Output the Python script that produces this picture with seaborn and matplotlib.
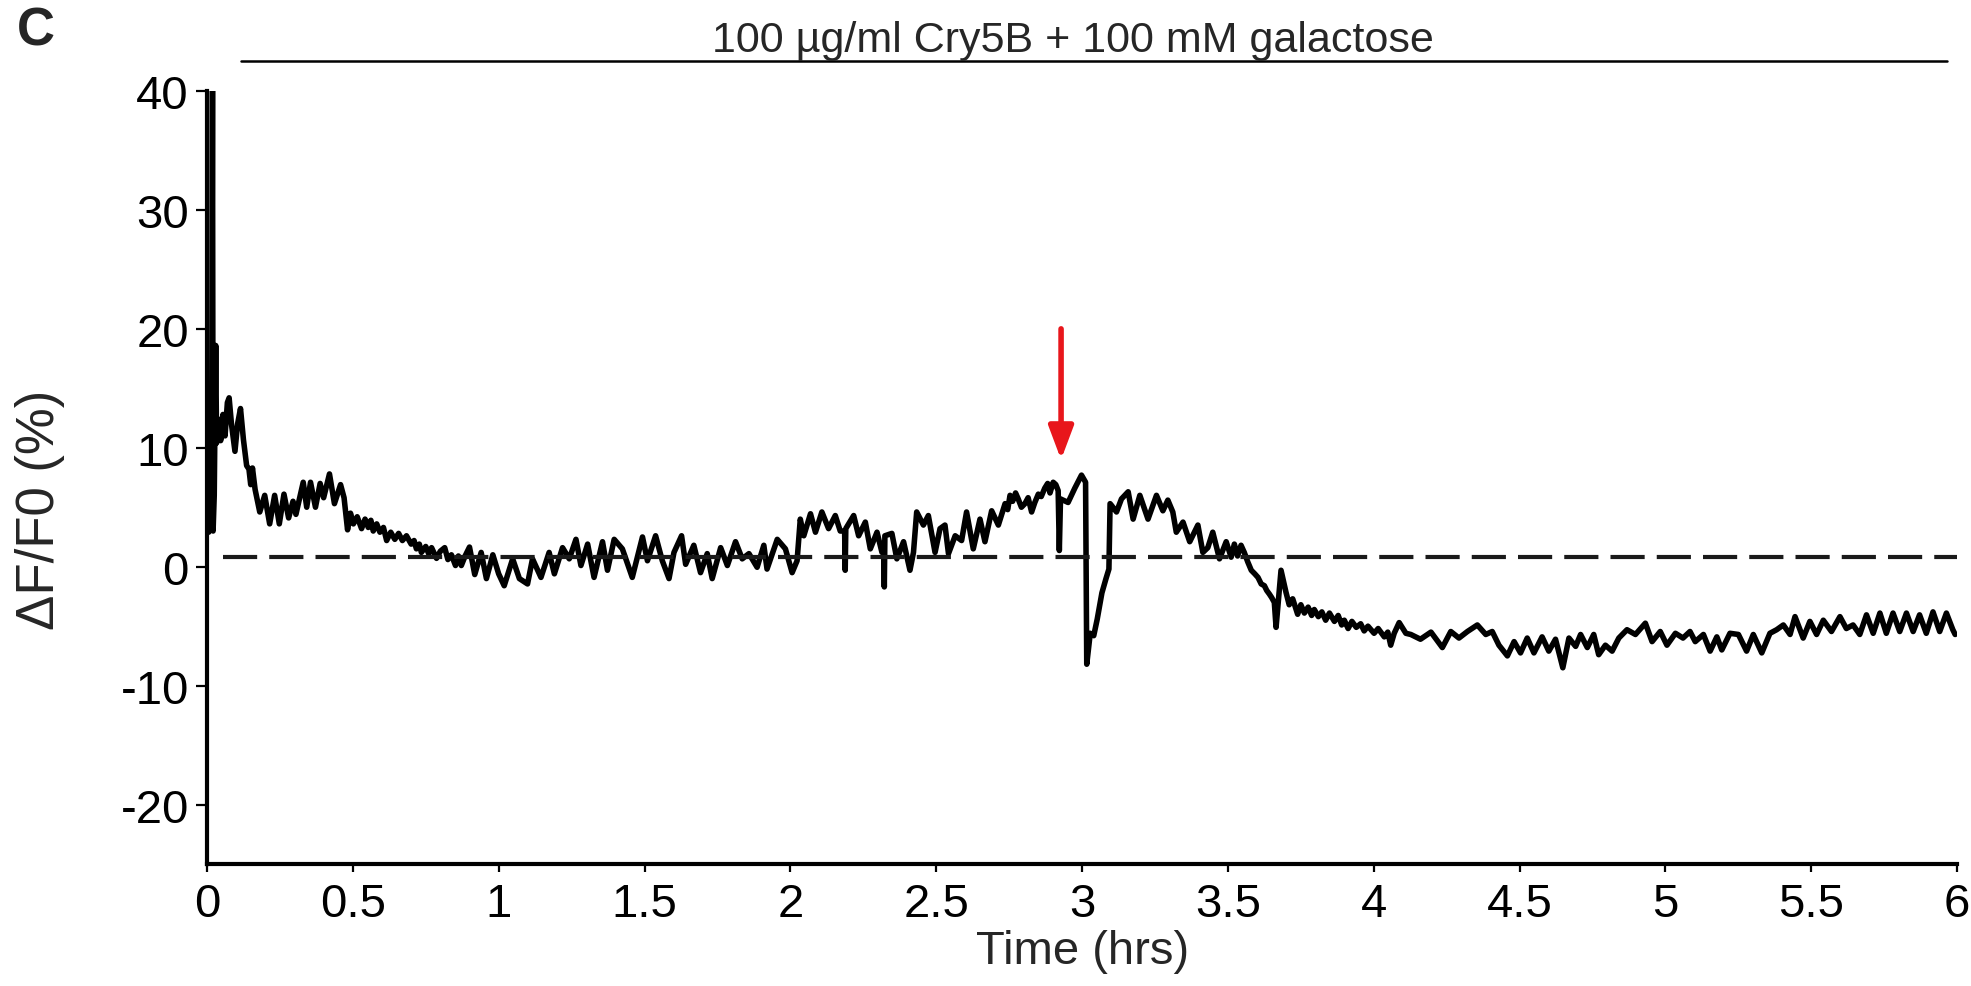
import numpy as np
import pandas as pd
import matplotlib
matplotlib.use("Agg")
import matplotlib.pyplot as plt
import seaborn as sns
from matplotlib.patches import FancyArrowPatch

# ---------------- data ----------------
time_hrs = [
    # 0 - 0.5 h
    0.000, 0.006, 0.010, 0.013, 0.016, 0.019, 0.021, 0.025, 0.030, 0.033,
    0.040, 0.047, 0.055, 0.062, 0.070, 0.076, 0.084, 0.096, 0.105, 0.115,
    0.125, 0.136, 0.144, 0.150, 0.156, 0.165, 0.181, 0.198, 0.215, 0.232,
    0.248, 0.264, 0.280, 0.295, 0.305, 0.330, 0.342, 0.355, 0.372, 0.388,
    0.400, 0.420, 0.437, 0.458, 0.470, 0.482,
    # 0.5 - 1.0 h
    0.492, 0.502, 0.515, 0.530, 0.542, 0.553, 0.562, 0.570, 0.582, 0.593,
    0.605, 0.616, 0.630, 0.644, 0.657, 0.670, 0.684, 0.700, 0.710, 0.718,
    0.728, 0.735, 0.750, 0.760, 0.770, 0.787, 0.800, 0.815, 0.826, 0.838,
    0.852, 0.862, 0.872, 0.885, 0.900, 0.918, 0.940, 0.958, 0.980, 1.000,
    # 1.0 - 2.0 h
    1.019, 1.048, 1.071, 1.099, 1.116, 1.145, 1.173, 1.191, 1.219, 1.242,
    1.265, 1.282, 1.305, 1.327, 1.356, 1.373, 1.396, 1.424, 1.458, 1.493,
    1.510, 1.538, 1.561, 1.584, 1.601, 1.627, 1.641, 1.669, 1.692, 1.715,
    1.732, 1.761, 1.784, 1.812, 1.835, 1.858, 1.886, 1.909, 1.920, 1.955,
    1.983, 2.006, 2.023,
    # 2.0 - 3.0 h
    2.034, 2.046, 2.069, 2.086, 2.108, 2.131, 2.154, 2.171, 2.186, 2.188,
    2.190, 2.217, 2.234, 2.257, 2.274, 2.297, 2.314, 2.320, 2.322, 2.324,
    2.348, 2.365, 2.388, 2.410, 2.422, 2.433, 2.456, 2.473, 2.496, 2.513,
    2.530, 2.542, 2.565, 2.587, 2.604, 2.627, 2.650, 2.667, 2.690, 2.713,
    2.736, 2.745, 2.753, 2.762, 2.772, 2.781, 2.792, 2.804, 2.815, 2.827,
    2.838, 2.850, 2.860, 2.872, 2.882, 2.890, 2.901, 2.910, 2.918, 2.922,
    2.926, 2.952, 2.975, 2.998, 3.012,
    # 3.0 - 4.1 h
    3.016, 3.028, 3.040, 3.052, 3.068, 3.082, 3.092, 3.096, 3.101, 3.118,
    3.135, 3.158, 3.175, 3.198, 3.226, 3.255, 3.277, 3.294, 3.311, 3.323,
    3.346, 3.369, 3.397, 3.414, 3.431, 3.448, 3.471, 3.494, 3.511, 3.522,
    3.533, 3.545, 3.556, 3.568, 3.580, 3.592, 3.603, 3.614, 3.625, 3.633,
    3.642, 3.650, 3.659, 3.665, 3.682, 3.699, 3.710, 3.722, 3.739, 3.750,
    3.762, 3.775, 3.787, 3.796, 3.810, 3.822, 3.835, 3.848, 3.865, 3.878,
    3.890, 3.899, 3.912, 3.925, 3.940, 3.955, 3.967, 3.980, 4.001, 4.015,
    4.036, 4.048, 4.058, 4.070, 4.087,
    # 4.1 - 6.0 h
    4.110, 4.127, 4.160, 4.196, 4.235, 4.264, 4.292, 4.321, 4.355, 4.384,
    4.406, 4.429, 4.458, 4.481, 4.503, 4.526, 4.549, 4.577, 4.600, 4.623,
    4.648, 4.669, 4.692, 4.709, 4.732, 4.754, 4.771, 4.794, 4.817, 4.840,
    4.868, 4.897, 4.931, 4.954, 4.982, 5.005, 5.034, 5.060, 5.084, 5.102,
    5.130, 5.153, 5.176, 5.193, 5.221, 5.250, 5.278, 5.301, 5.330, 5.358,
    5.381, 5.404, 5.427, 5.444, 5.472, 5.495, 5.518, 5.541, 5.569, 5.598,
    5.620, 5.643, 5.666, 5.689, 5.712, 5.735, 5.757, 5.780, 5.803, 5.826,
    5.849, 5.871, 5.894, 5.917, 5.940, 5.963, 5.985, 5.993,
]
dff0_pct = [
    # 0 - 0.5 h
    5.0, 2.9, 8.0, 3.2, 9.3, 40.0, 3.0, 6.0, 18.6, 10.4,
    12.4, 10.6, 12.8, 11.0, 13.8, 14.2, 12.0, 9.7, 12.0, 13.3,
    10.7, 8.5, 8.2, 6.9, 8.3, 6.5, 4.6, 6.0, 3.6, 6.0,
    3.6, 6.1, 4.1, 5.5, 4.4, 7.1, 5.0, 7.1, 5.0, 7.0,
    5.8, 7.8, 5.3, 6.9, 5.8, 3.1,
    # 0.5 - 1.0 h
    4.5, 3.6, 4.2, 3.2, 4.0, 3.3, 3.9, 3.0, 3.6, 2.9,
    3.3, 2.2, 2.9, 2.3, 2.8, 2.2, 2.6, 1.9, 2.2, 1.5,
    1.9, 1.2, 1.7, 1.1, 1.6, 0.7, 1.3, 1.6, 0.6, 1.0,
    0.1, 0.9, 0.1, 0.9, 1.65, -0.66, 1.2, -1.0, 1.0, -0.6,
    # 1.0 - 2.0 h
    -1.6, 0.66, -1.0, -1.45, 0.66, -0.9, 1.2, -0.6, 1.6, 0.66,
    2.3, 0.1, 1.9, -0.9, 2.1, -0.3, 2.3, 1.5, -0.9, 2.5,
    0.5, 2.6, 0.5, -1.0, 1.2, 2.6, 0.2, 1.8, -0.5, 1.1,
    -1.0, 1.6, 0.1, 2.1, 0.66, 1.1, -0.05, 1.8, -0.2, 2.3,
    1.5, -0.5, 0.5,
    # 2.0 - 3.0 h
    4.0, 2.6, 4.45, 2.9, 4.6, 3.2, 4.3, 3.0, 3.0, -0.3,
    3.2, 4.3, 2.6, 3.75, 1.5, 2.9, 1.2, 2.0, -1.7, 2.6,
    2.8, 0.66, 2.1, -0.3, 1.2, 4.6, 3.5, 4.3, 1.2, 3.2,
    3.5, 1.1, 2.6, 2.2, 4.6, 1.5, 4.0, 2.1, 4.7, 3.5,
    5.3, 4.8, 6.0, 5.5, 6.2, 5.7, 5.0, 5.3, 5.8, 4.6,
    5.4, 6.1, 5.9, 6.6, 7.0, 6.2, 7.1, 6.9, 6.4, 1.36,
    5.7, 5.4, 6.6, 7.7, 7.1,
    # 3.0 - 4.1 h
    -8.2, -5.6, -5.8, -4.4, -2.2, -1.0, -0.2, 5.3, 5.15, 4.6,
    5.7, 6.3, 4.0, 6.0, 4.0, 6.0, 4.7, 5.6, 4.6, 2.9,
    3.75, 2.1, 3.5, 1.2, 1.6, 2.9, 0.66, 2.1, 0.8, 1.9,
    0.9, 1.8, 1.2, 0.4, -0.3, -0.6, -0.9, -1.45, -1.6, -2.0,
    -2.3, -2.6, -3.0, -5.1, -0.3, -2.15, -3.2, -2.7, -4.0, -3.2,
    -3.9, -3.4, -4.1, -3.6, -4.2, -3.8, -4.5, -3.9, -4.6, -4.1,
    -4.9, -4.5, -5.2, -4.6, -5.1, -4.8, -5.4, -5.0, -5.6, -5.2,
    -5.9, -5.5, -6.6, -5.6, -4.7,
    # 4.1 - 6.0 h
    -5.6, -5.7, -6.1, -5.5, -6.8, -5.45, -6.0, -5.45, -4.9, -5.7,
    -5.45, -6.6, -7.5, -6.3, -7.25, -6.0, -7.25, -5.9, -7.1, -6.1,
    -8.5, -6.0, -6.7, -5.7, -6.8, -5.7, -7.4, -6.6, -7.1, -6.0,
    -5.3, -5.7, -4.75, -6.3, -5.45, -6.6, -5.6, -6.0, -5.45, -6.3,
    -5.7, -7.1, -5.9, -7.0, -5.6, -5.7, -7.1, -5.7, -7.25, -5.6,
    -5.3, -4.9, -5.7, -4.2, -6.0, -4.6, -5.7, -4.5, -5.45, -4.2,
    -5.2, -4.9, -5.7, -4.05, -5.6, -3.9, -5.6, -3.9, -5.45, -3.9,
    -5.45, -4.05, -5.6, -3.8, -5.45, -3.9, -5.3, -5.7,
]
assert len(time_hrs) == len(dff0_pct)

x_ticks = [0, 0.5, 1, 1.5, 2, 2.5, 3, 3.5, 4, 4.5, 5, 5.5, 6]
x_tick_labels = ["0", "0.5", "1", "1.5", "2", "2.5", "3", "3.5", "4", "4.5", "5", "5.5", "6"]
y_ticks = [-20, -10, 0, 10, 20, 30, 40]
y_tick_labels = ["-20", "-10", "0", "10", "20", "30", "40"]

baseline_value = 0.8
baseline_start = 0.056
treatment_label = "100 µg/ml Cry5B + 100 mM galactose"
treatment_start, treatment_end, treatment_bar_y = 0.116, 5.965, 42.5
treatment_label_x = 2.97
arrow_time, arrow_top, arrow_tip = 2.928, 20.0, 9.0
panel_label = "C"

# ---------------- figure ----------------
sns.set_theme(style="ticks")
plt.rcParams["font.family"] = ["Liberation Sans", "DejaVu Sans"]
plt.rcParams["axes.unicode_minus"] = False

fig = plt.figure(figsize=(19.71, 9.87), dpi=100)
ax = fig.add_axes([0.105, 0.1236, 0.888, 0.7832])

df = pd.DataFrame({"t": time_hrs, "v": dff0_pct})
sns.lineplot(data=df, x="t", y="v", ax=ax, color="black", linewidth=4.0,
             estimator=None, sort=False, legend=False)

ax.hlines(baseline_value, baseline_start, x_ticks[-1], colors="#1a1a1a",
          linewidth=3.0, linestyles=(0, (8.2, 2.9)))

ax.set_xlim(x_ticks[0], x_ticks[-1])
ax.set_ylim(-25, 40)
ax.set_xticks(x_ticks)
ax.set_xticklabels(x_tick_labels)
ax.set_yticks(y_ticks)
ax.set_yticklabels(y_tick_labels)

for s in ["top", "right"]:
    ax.spines[s].set_visible(False)
for s in ["left", "bottom"]:
    ax.spines[s].set_linewidth(3.0)
    ax.spines[s].set_color("black")

ax.tick_params(axis="y", length=8, width=1.6, pad=5, labelsize=34, colors="black")
ax.tick_params(axis="x", length=6, width=1.6, pad=7, labelsize=34, colors="black")

ax.set_xlabel("Time (hrs)", fontsize=34)
ax.set_ylabel("ΔF/F0 (%)", fontsize=38)
ax.xaxis.set_label_coords(0.5, -0.084)
ax.yaxis.set_label_coords(-0.081, 0.459)

# treatment bar and label
ax.plot([treatment_start, treatment_end], [treatment_bar_y, treatment_bar_y],
        color="black", linewidth=1.8, clip_on=False)
ax.text(treatment_label_x, treatment_bar_y + 0.85, treatment_label,
        ha="center", va="baseline", fontsize=31, clip_on=False)

# red arrow
arrow = FancyArrowPatch((arrow_time, arrow_top), (arrow_time, arrow_tip),
                        arrowstyle="-|>,head_length=2.0,head_width=0.75",
                        mutation_scale=10, color="#e8161b", linewidth=4.0,
                        shrinkA=0, shrinkB=0)
ax.add_patch(arrow)

fig.text(0.0086, 0.954, panel_label, fontsize=38, fontweight="bold", ha="left", va="baseline")

fig.savefig("out.png", dpi=100)
